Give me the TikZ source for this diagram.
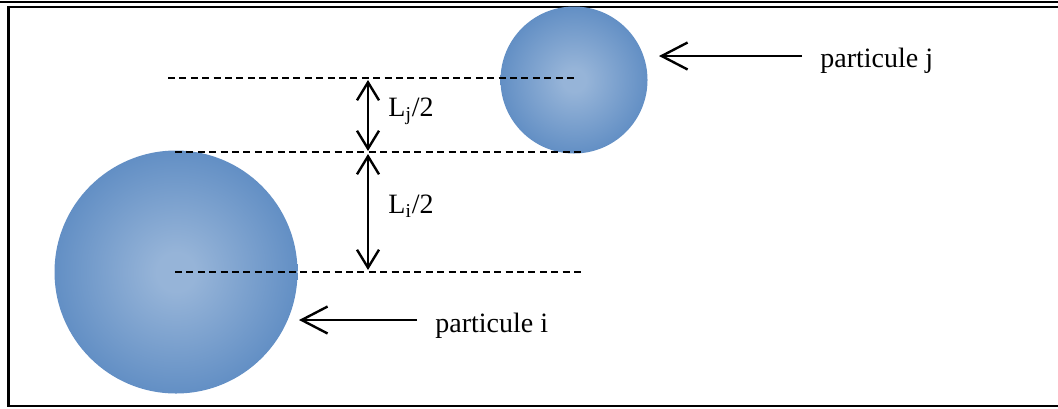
\documentclass[tikz,border=0pt]{standalone}
\usepackage{fontspec}
\setmainfont{Liberation Serif}
\usetikzlibrary{arrows.meta}
\definecolor{ballin}{RGB}{150,180,216}
\definecolor{ballout}{RGB}{79,129,189}
\pgfdeclareradialshading{ballshade}{\pgfpoint{0bp}{0bp}}{color(0bp)=(ballin); color(4bp)=(ballin); color(33bp)=(ballout); color(50bp)=(ballout)}
\tikzset{
  ball/.style={circle, inner sep=0pt, draw=none, shading=ballshade},
  guide/.style={line width=1pt, dash pattern=on 3.5pt off 2.2pt},
  dimarrow/.style={line width=1.2pt, {Straight Barb[length=9pt,width=11pt]}-{Straight Barb[length=9pt,width=11pt]}},
  pointer/.style={line width=1.2pt, -{Straight Barb[length=13pt,width=13.5pt]}},
  lab/.style={inner sep=0pt, anchor=base west, font=\fontsize{14}{16}\selectfont},
  frameline/.style={line width=1.1pt}
}
\begin{document}
\begin{tikzpicture}[x=0.5pt,y=-0.5pt]
\useasboundingbox (0,0) rectangle (1058,408);
% frame
\draw[frameline] (0,2) -- (1058,2);
\draw[frameline] (1060,7) -- (8.5,7) -- (8.5,406) -- (1060,406);
% particles
\node[ball, minimum size=121.5pt] (ci) at (176,272) {};
\node[ball, minimum size=73.5pt] (cj) at (574,80) {};
% guide lines
\coordinate (g1a) at (168,78);  \coordinate (g1b) at (577,78);
\coordinate (g2a) at (175,152); \coordinate (g2b) at (585,152);
\coordinate (g3a) at (175,272); \coordinate (g3b) at (585,272);
\draw[guide] (g1a) -- (g1b);
\draw[guide] (g2a) -- (g2b);
\draw[guide] (g3a) -- (g3b);
% dimension arrows
\coordinate (a1t) at (368,80);  \coordinate (a1b) at (368,151);
\coordinate (a2t) at (368,154); \coordinate (a2b) at (368,270);
\draw[dimarrow] (a1t) -- (a1b);
\draw[dimarrow] (a2t) -- (a2b);
\node[lab] (lj) at (388,116.5) {L\textsubscript{j}/2};
\node[lab] (li) at (388,213) {L\textsubscript{i}/2};
% labels and pointers
\node[lab] (pj) at (820,67) {particule j};
\node[lab] (pi) at (435,332) {particule i};
\coordinate (jtail) at (802,56); \coordinate (jtip) at (659,56);
\coordinate (itail) at (417,320); \coordinate (itip) at (299,320);
\draw[pointer] (jtail) -- (jtip);
\draw[pointer] (itail) -- (itip);
\end{tikzpicture}
\end{document}
